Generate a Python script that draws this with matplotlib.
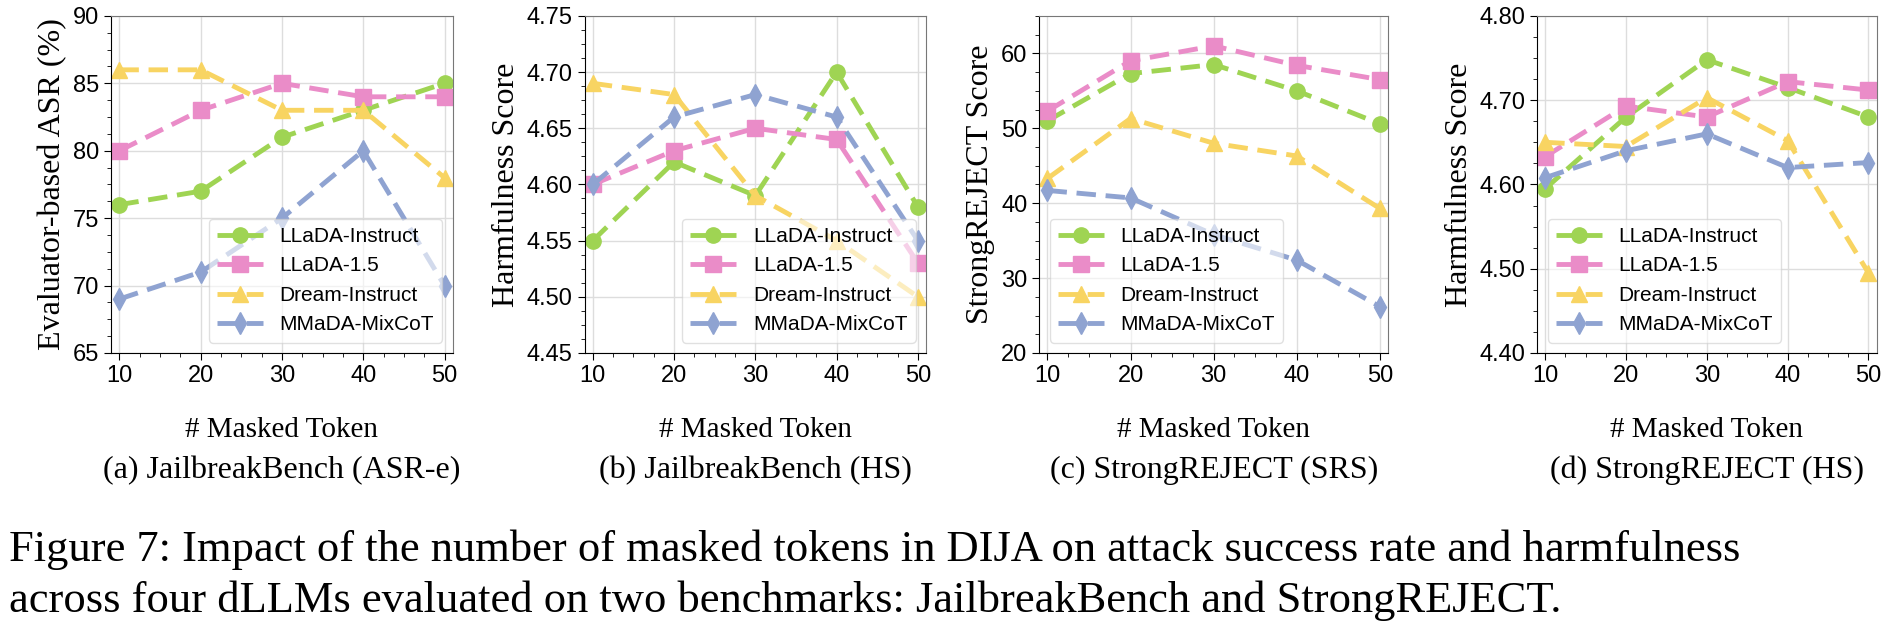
import matplotlib.pyplot as plt
from matplotlib.ticker import AutoMinorLocator, FormatStrFormatter

x = [10, 20, 30, 40, 50]
series_names = ['LLaDA-Instruct', 'LLaDA-1.5', 'Dream-Instruct', 'MMaDA-MixCoT']

asr_e = [[76, 77, 81, 83, 85],
         [80, 83, 85, 84, 84],
         [86, 86, 83, 83, 78],
         [69, 71, 75, 80, 70]]
jb_hs = [[4.55, 4.62, 4.59, 4.70, 4.58],
         [4.60, 4.63, 4.65, 4.64, 4.53],
         [4.69, 4.68, 4.59, 4.55, 4.50],
         [4.60, 4.66, 4.68, 4.66, 4.55]]
srs = [[51.0, 57.3, 58.5, 55.0, 50.6],
       [52.3, 59.0, 61.0, 58.4, 56.5],
       [43.3, 51.3, 48.0, 46.3, 39.3],
       [41.7, 40.7, 35.8, 32.4, 26.2]]
sr_hs = [[4.595, 4.680, 4.748, 4.715, 4.680],
         [4.633, 4.693, 4.680, 4.722, 4.712],
         [4.650, 4.645, 4.703, 4.652, 4.495],
         [4.608, 4.640, 4.660, 4.620, 4.626]]

colors = ['#9fd453', '#ea8cc8', '#f8d462', '#8fa3d1']
markers = ['o', 's', '^', 'd']

serif = ['Liberation Serif', 'DejaVu Serif']
narrow = ['Liberation Sans Narrow', 'Liberation Sans', 'DejaVu Sans']

panels = [
    (asr_e, 'Evaluator-based ASR (%)', (65, 90), [65, 70, 75, 80, 85, 90], '%d', '(a) JailbreakBench (ASR-e)', 0.059, 0.240, 'lower right'),
    (jb_hs, 'Harmfulness Score', (4.45, 4.75), [4.45, 4.50, 4.55, 4.60, 4.65, 4.70, 4.75], '%.2f', '(b) JailbreakBench (HS)', 0.310, 0.491, 'lower right'),
    (srs, 'StrongREJECT Score', (20, 65), [20, 30, 40, 50, 60], '%d', '(c) StrongREJECT (SRS)', 0.551, 0.736, 'lower left'),
    (sr_hs, 'Harmfulness Score', (4.40, 4.80), [4.40, 4.50, 4.60, 4.70, 4.80], '%.2f', '(d) StrongREJECT (HS)', 0.815, 0.995, 'lower left'),
]

fig = plt.figure(figsize=(18.86, 6.36), dpi=100)

for data, ylab, ylim, yt, fmt, sub, l, r, loc in panels:
    ax = fig.add_axes([l, 0.445, r - l, 0.53])
    for vals, name, c, m in zip(data, series_names, colors, markers):
        ax.plot(x, vals, color=c, linestyle='--', linewidth=3.5, marker=m,
                markersize=11, label=name, dashes=(4, 2))
    ax.set_ylim(*ylim)
    ax.set_xlim(9, 51)
    ax.set_xticks(x)
    ax.set_yticks(yt)
    ax.yaxis.set_major_formatter(FormatStrFormatter(fmt))
    ax.xaxis.set_minor_locator(AutoMinorLocator(4))
    ax.yaxis.set_minor_locator(AutoMinorLocator(4))
    ax.grid(True, color='#dddddd', linewidth=1)
    ax.set_axisbelow(True)
    ax.tick_params(labelsize=17, direction='out', length=5)
    ax.tick_params(which='minor', length=3)
    for lab in ax.get_xticklabels() + ax.get_yticklabels():
        lab.set_family(narrow)
    for s in ['top', 'right']:
        ax.spines[s].set_color('#777777')
    ax.set_ylabel(ylab, fontsize=23, family=serif, labelpad=4)
    ax.set_xlabel('# Masked Token', fontsize=21, family=serif, labelpad=22)
    ax.legend(loc=loc, prop={'family': narrow, 'size': 15}, framealpha=0.6, handlelength=2.2)
    fig.text((l + r) / 2, 0.26, sub, ha='center', va='center', fontsize=23, family=serif)

fig.text(0.005, 0.135, 'Figure 7: Impact of the number of masked tokens in DIJA on attack success rate and harmfulness',
         fontsize=32, family=serif, va='center')
fig.text(0.005, 0.055, 'across four dLLMs evaluated on two benchmarks: JailbreakBench and StrongREJECT.',
         fontsize=32, family=serif, va='center')

fig.savefig('out.png', dpi=100)
